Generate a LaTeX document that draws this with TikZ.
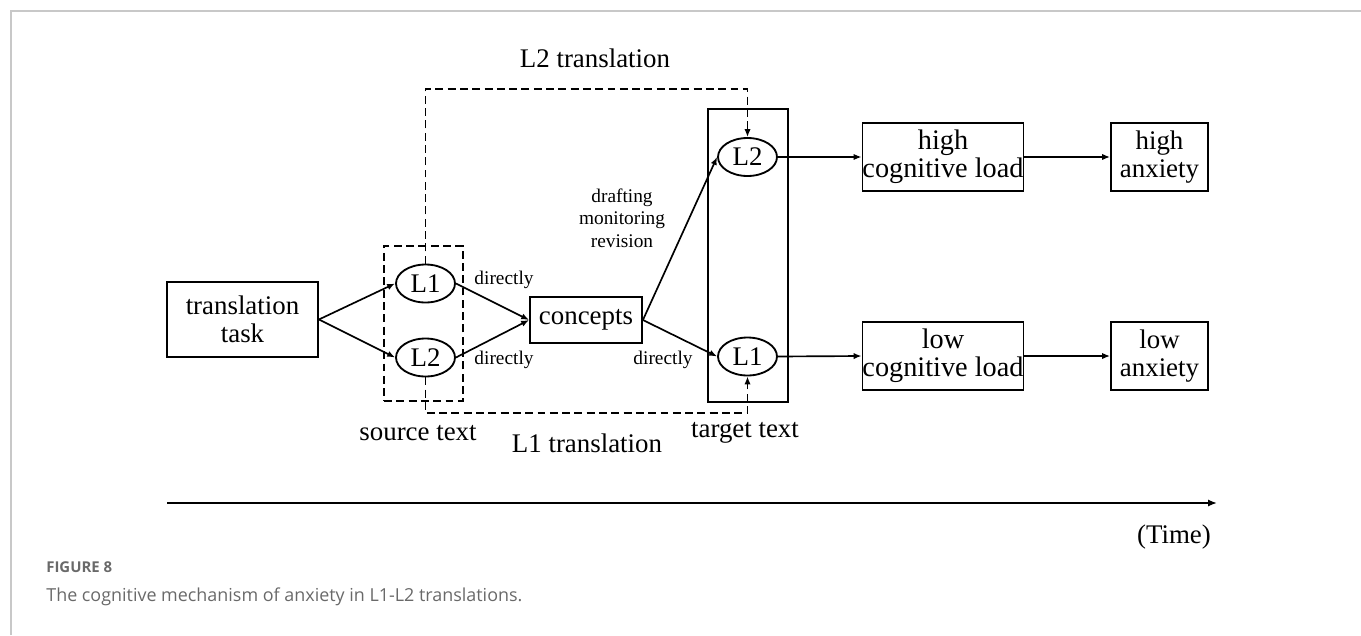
\documentclass[tikz,border=0pt]{standalone}
\usepackage{fontspec}
\setmainfont{Liberation Serif}
\newfontfamily\capfont{Open Sans}
\usepackage{tikz}
\usetikzlibrary{arrows.meta, shapes.geometric}
\definecolor{framegray}{RGB}{200,200,200}
\definecolor{capgray}{RGB}{105,105,105}

\begin{document}
\begin{tikzpicture}[x=0.02cm, y=-0.02cm,
  box/.style={draw, line width=1.05pt, align=center, inner sep=0pt, font=\fontsize{15.3}{16}\selectfont},
  lang/.style={draw, ellipse, line width=1.05pt, inner sep=0pt, minimum width=1.18cm, minimum height=0.76cm, font=\fontsize{15.3}{16}\selectfont},
  lbl/.style={font=\fontsize{15.3}{16}\selectfont},
  note/.style={font=\fontsize{11}{12.8}\selectfont, align=center},
  arr/.style={-{Latex[length=4.5pt,width=3.6pt]}, line width=0.95pt},
  darr/.style={arr, dash pattern=on 4.5pt off 2.5pt}]
\useasboundingbox (0,0) rectangle (1361,635);
\draw[framegray, line width=1.1pt] (11,635) -- (11,11) -- (1361,11);
\node[box, minimum width=3.02cm, minimum height=1.5cm] (task) at (242.5,319.5) {translation\\task};
\node[draw, dash pattern=on 4.5pt off 2.5pt, line width=0.95pt, minimum width=1.58cm, minimum height=3.1cm] (src) at (423.5,323.5) {};
\node[draw, line width=1.05pt, minimum width=1.6cm, minimum height=5.86cm] (tgt) at (748,255.5) {};
\node[lang] (sL1) at (425.5,283.5) {L1};
\node[lang] (sL2) at (425.5,357.5) {L2};
\node[lang] (tL2) at (747.5,157) {L2};
\node[lang] (tL1) at (747.5,356.5) {L1};
\node[box, minimum width=2.24cm, minimum height=0.92cm] (con) at (586,320) {concepts};
\node[box, minimum width=3.2cm, minimum height=1.36cm, font=\fontsize{16.1}{16}\selectfont] (hcl) at (943,157) {high\\cognitive load};
\node[box, minimum width=3.2cm, minimum height=1.36cm, font=\fontsize{16.1}{16}\selectfont] (lcl) at (943,356) {low\\cognitive load};
\node[box, minimum width=1.94cm, minimum height=1.36cm] (hax) at (1159.5,157) {high\\anxiety};
\node[box, minimum width=1.94cm, minimum height=1.36cm] (lax) at (1159.5,356) {low\\anxiety};
\draw[arr] (task.east) -- (sL1.west);
\draw[arr] (task.east) -- (sL2.west);
\draw[arr] (sL1.east) -- (con.west);
\draw[arr] (sL2.east) -- (con.west);
\draw[arr] (con.east) -- (tL2.west);
\draw[arr] (con.east) -- (tL1.west);
\draw[arr] (tL2.east) -- (hcl.west);
\draw[arr] (tL1.east) -- (lcl.west);
\draw[arr] (hcl) -- (hax);
\draw[arr] (lcl) -- (lax);
\coordinate (top) at (0,89);
\coordinate (bot) at (0,413);
\draw[darr] (sL1.north) -- (sL1.north |- top) -| (tL2.north);
\draw[darr] (sL2.south) -- (sL2.south |- bot) -| (tL1.south);
\node[lbl] (l2tr) at (595,58) {L2 translation};
\node[lbl] (l1tr) at (587,443) {L1 translation};
\node[lbl] (srctxt) at (418,433) {source text};
\node[lbl] (tgttxt) at (745,433) {target text};
\node[note] (d1) at (504,280) {directly};
\node[note] (d2) at (504,360) {directly};
\node[note] (d3) at (663,360) {directly};
\node[note] (dmr) at (622,218) {drafting\\monitoring\\revision};
\coordinate (t0) at (167,503);
\coordinate (t1) at (1217,503);
\draw[-{Latex[length=5pt,width=4pt]}, line width=1.3pt] (t0) -- (t1);
\node[lbl, anchor=east] (time) at (1217,537) {(Time)};
\node[anchor=base west, inner sep=0pt, text=capgray, font=\capfont\bfseries\fontsize{8.5}{10}\selectfont] (fig) at (46,572) {FIGURE 8};
\node[anchor=base west, inner sep=0pt, text=capgray, font=\capfont\fontsize{10.2}{12}\selectfont] (cap) at (46,601) {The cognitive mechanism of anxiety in L1-L2 translations.};
\end{tikzpicture}
\end{document}
